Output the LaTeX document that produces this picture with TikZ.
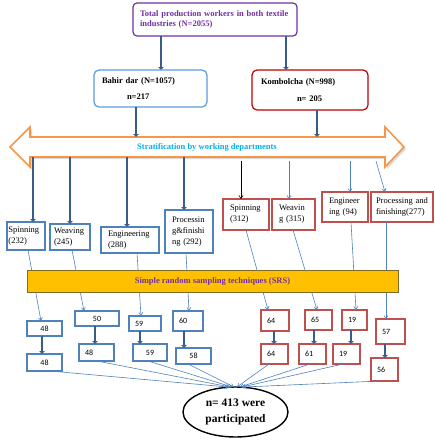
\documentclass[tikz,border=0pt]{standalone}
\usepackage{fontspec}
\setmainfont{Liberation Serif}
\newfontfamily\numfont{Carlito}
\usepackage{tikz}
\usetikzlibrary{calc,arrows.meta,shapes}
\definecolor{linkblue}{HTML}{4F81BD}
\definecolor{darkarrow}{HTML}{385D8A}
\definecolor{boxpurple}{HTML}{7030A0}
\definecolor{boxblue}{HTML}{5B9BD5}
\definecolor{boxred}{HTML}{C00000}
\definecolor{deptblue}{HTML}{4F81BD}
\definecolor{deptred}{HTML}{C0504D}
\definecolor{bandorange}{HTML}{F79646}
\definecolor{textcyan}{HTML}{00B0F0}
\definecolor{srsgold}{HTML}{FFC000}
\definecolor{srsedge}{HTML}{7F6A2A}
\tikzset{
	every node/.style={rectangle,outer sep=0pt,inner sep=2pt},
	site/.style={draw,rounded corners=5pt,line width=1.2pt,anchor=north west,align=left,font=\fontsize{8.5}{10.5}\selectfont\bfseries},
	dept/.style={draw,line width=1.2pt,anchor=north west,align=left,font=\fontsize{8.5}{11}\selectfont},
	sample/.style={draw,line width=1.2pt,anchor=north west,align=left,inner xsep=6pt,font=\numfont\fontsize{8}{9}\selectfont},
	thickarrow/.style={draw=darkarrow,line width=2.4pt,-{Triangle[length=3pt,width=5.5pt]}},
	thinarrow/.style={draw=linkblue,line width=0.6pt,-{Straight Barb[length=3pt,width=4pt]}}
	}
\begin{document}
\begin{tikzpicture}[x=1pt,y=-1pt]
  \useasboundingbox (0,0) rectangle (435,440);
  % population and the two factories
  \node[site,draw=boxpurple,text=boxpurple,text width=150pt,inner xsep=7pt,minimum height=33pt,rounded corners=4pt] (all) at (133,3) {Total production workers in both textile\\industries (N=2055)};
  \node[site,draw=boxblue,text width=97pt,inner xsep=8pt,minimum height=37pt] (bahir) at (94,70) {Bahir~dar~(N=1057)\\[6pt]\hspace*{25pt}n=217};
  \node[site,draw=boxred,text width=98pt,inner xsep=9pt,minimum height=40pt] (kombol) at (252,70) {Kombolcha~(N=998)\\[7pt]\hspace*{36pt}n=~205};
  \draw[thickarrow] (161,0 |- all.south) -- (161,0 |- bahir.north);
  \draw[thickarrow] (286,0 |- all.south) -- (286,0 |- kombol.north);

  % stratification band
  \coordinate (bandtop) at (0,137);
  \coordinate (bandbot) at (0,157);
  \coordinate (bandlow) at (0,161);
  \fill[black!15,shift={(2,2)}] (10,147) -- (30,127) -- (30,137) -- (385,137) -- (385,127) -- (404,147) -- (385,167) -- (385,157) -- (30,157) -- (30,167) -- cycle;
  \draw[bandorange,line width=1.6pt,fill=white] (10,147) -- (30,127) -- (30,137) -- (385,137) -- (385,127) -- (404,147) -- (385,167) -- (385,157) -- (30,157) -- (30,167) -- cycle;
  \node[font=\fontsize{8.5}{10}\selectfont\bfseries,text=textcyan] (strat) at (207,147) {Stratification by working departments};
  \draw[thickarrow] (136,0 |- bahir.south) -- (136,0 |- bandtop);
  \draw[thickarrow] (317,0 |- kombol.south) -- (317,0 |- bandtop);

  % departments
  \node[dept,draw=deptblue,text width=35pt,inner xsep=1.5pt,minimum height=28pt] (spinA) at (7,222) {Spinning\\(232)};
  \node[dept,draw=deptblue,text width=32pt,inner xsep=4pt,minimum height=26pt] (weavA) at (50,224) {Weaving\\(245)};
  \node[dept,draw=deptblue,text width=44pt,inner xsep=7pt,minimum height=26pt] (engA) at (101,227) {Engineering\\(288)};
  \node[dept,draw=deptblue,text width=34pt,inner xsep=7pt,minimum height=43pt] (procA) at (165,210) {Processin\\g\&finishi\\ng~(292)};
  \node[dept,draw=deptred,text width=32pt,inner xsep=7pt,minimum height=31pt] (spinB) at (223,199) {Spinning\\(312)};
  \node[dept,draw=deptred,text width=29pt,inner xsep=7pt,minimum height=31pt] (weavB) at (272,199) {Weavin\\g~(315)};
  \node[dept,draw=deptred,text width=32pt,inner xsep=7pt,minimum height=30pt] (engB) at (322,192) {Engineer\\ing~(94)};
  \node[dept,draw=deptred,text width=52pt,inner xsep=5pt,minimum height=30pt] (procB) at (371,192) {Processing~and\\finishing(277)};

  \draw[thickarrow] (33,0 |- bandbot) -- (33,0 |- spinA.north);
  \draw[thickarrow] (70,0 |- bandbot) -- (70,0 |- weavA.north);
  \draw[thickarrow] (127,0 |- bandbot) -- (127,0 |- engA.north);
  \draw[thickarrow] (184,0 |- bandbot) -- (184,0 |- procA.north);
  \draw[thinarrow,draw=black] (241,0 |- bandlow) -- (241,0 |- spinB.north);
  \draw[thinarrow] (289,0 |- bandlow) -- (289,0 |- weavB.north);
  \draw[thinarrow] (350,0 |- bandlow) -- (350,0 |- engB.north);
  \draw[thinarrow] (376,0 |- bandlow) -- (385,0 |- procB.north);

  % samples per department
  \node[sample,draw=deptblue,text width=23pt,minimum height=15pt,align=center] (s1a) at (27,321) {48};
  \node[sample,draw=deptblue,text width=23pt,minimum height=17pt,align=center] (s1b) at (27,354) {48};
  \node[sample,draw=deptblue,text width=32pt,minimum height=15pt,align=center] (s2a) at (75,311) {50};
  \node[sample,draw=deptblue,text width=23pt,minimum height=17pt] (s2b) at (79,344) {48};
  \node[sample,draw=deptblue,text width=20pt,minimum height=15pt] (s3a) at (129,316) {59};
  \node[sample,draw=deptblue,text width=22pt,minimum height=17pt,align=center] (s3b) at (133,344) {59};
  \node[sample,draw=deptblue,text width=18pt,minimum height=20pt] (s4a) at (173,311) {60};
  \node[sample,draw=deptblue,text width=23pt,minimum height=16pt,align=center] (s4b) at (176,348) {58};
  \node[sample,draw=deptred,text width=16pt,minimum height=21pt] (r1a) at (261,310) {64};
  \node[sample,draw=deptred,text width=15pt,minimum height=20pt] (r1b) at (261,344) {64};
  \node[sample,draw=deptred,text width=15pt,minimum height=20pt] (r2a) at (305,310) {65};
  \node[sample,draw=deptred,text width=15pt,minimum height=20pt] (r2b) at (299,344) {61};
  \node[sample,draw=deptred,text width=13pt,minimum height=20pt] (r3a) at (342,310) {19};
  \node[sample,draw=deptred,text width=15pt,minimum height=20pt] (r3b) at (333,344) {19};
  \node[sample,draw=deptred,text width=17pt,minimum height=25pt] (r4a) at (376,319) {57};
  \node[sample,draw=deptred,text width=15pt,minimum height=23pt] (r4b) at (371,358) {56};

  \draw[thinarrow] (28,0 |- spinA.south) -- (41,0 |- s1a.north);
  \draw[thinarrow] (72,0 |- weavA.south) -- (84,0 |- s2a.north);
  \draw[thinarrow] (137,0 |- engA.south) -- (141,0 |- s3a.north);
  \draw[thinarrow] (186,0 |- procA.south) -- (189,0 |- s4a.north);
  \draw[thinarrow] (246,0 |- spinB.south) -- (268,0 |- r1a.north);
  \draw[thinarrow] (293,0 |- weavB.south) -- (317,0 |- r2a.north);
  \draw[thinarrow] (351,0 |- engB.south) -- (356,0 |- r3a.north);
  \draw[thinarrow] (386,0 |- procB.south) -- (386,0 |- r4a.north);

  \draw[thickarrow] (42,0 |- s1a.south) -- (42,0 |- s1b.north);
  \draw[thickarrow] (95,0 |- s2a.south) -- (95,0 |- s2b.north);
  \draw[thickarrow] (140,0 |- s3a.south) -- (140,0 |- s3b.north);
  \draw[thickarrow] (184,0 |- s4a.south) -- (184,0 |- s4b.north);
  \draw[thickarrow] (274,0 |- r1a.south) -- (274,0 |- r1b.north);
  \draw[thickarrow] (314,0 |- r2a.south) -- (314,0 |- r2b.north);
  \draw[thickarrow] (351,0 |- r3a.south) -- (351,0 |- r3b.north);
  \draw[thickarrow] (385,0 |- r4a.south) -- (385,0 |- r4b.north);

  % total sample
  \node[draw,ellipse,line width=1.4pt,minimum width=105pt,minimum height=50pt,align=center,font=\fontsize{11.5}{16}\selectfont\bfseries] (sum) at (235.5,412) {n= 413 were\\participated};
  \draw[thinarrow] (50,0 |- s1b.south) -- (228,0 |- sum.north);
  \draw[thinarrow] (97,0 |- s2b.south) -- (230,0 |- sum.north);
  \draw[thinarrow] (148,0 |- s3b.south) -- (232,0 |- sum.north);
  \draw[thinarrow] (188,0 |- s4b.south) -- (234,0 |- sum.north);
  \draw[thinarrow] (269,0 |- r1b.south) -- (237,0 |- sum.north);
  \draw[thinarrow] (310,0 |- r2b.south) -- (240,0 |- sum.north);
  \draw[thinarrow] (343,0 |- r3b.south) -- (242,0 |- sum.north);
  \draw[thinarrow] (380,0 |- r4b.south) -- (244,0 |- sum.north);

  % sampling bar over the links
  \node[draw=srsedge,fill=srsgold,line width=0.8pt,anchor=north west,minimum width=371pt,minimum height=22pt,text=boxpurple,font=\fontsize{8.5}{10}\selectfont\bfseries] (srs) at (27,270) {Simple random sampling techniques (SRS)};
\end{tikzpicture}
\end{document}
